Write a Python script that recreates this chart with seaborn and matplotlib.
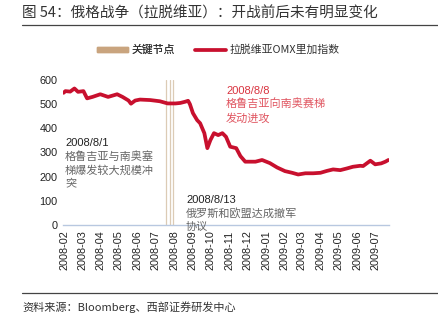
import matplotlib
matplotlib.use("Agg")
import matplotlib.pyplot as plt
import matplotlib.lines as mlines
import matplotlib.patches as mpatches
import seaborn as sns
import pandas as pd

# Latvia OMX Riga index, sampled dates and levels
dates = [
    "2008-02-13", "2008-02-16", "2008-02-24", "2008-03-02", "2008-03-08", "2008-03-17",
    "2008-03-23", "2008-04-01", "2008-04-14", "2008-04-27", "2008-05-12", "2008-05-21",
    "2008-05-31", "2008-06-04", "2008-06-11", "2008-06-19", "2008-07-06", "2008-07-22",
    "2008-08-04", "2008-08-17", "2008-08-25", "2008-09-02", "2008-09-07", "2008-09-10",
    "2008-09-15", "2008-09-22", "2008-09-27", "2008-10-04", "2008-10-09", "2008-10-14",
    "2008-10-20", "2008-10-27", "2008-11-03", "2008-11-09", "2008-11-16", "2008-11-26",
    "2008-12-03", "2008-12-11", "2008-12-28", "2009-01-08", "2009-01-21", "2009-02-02",
    "2009-02-15", "2009-02-27", "2009-03-09", "2009-03-21", "2009-04-03", "2009-04-15",
    "2009-04-26", "2009-05-06", "2009-05-18", "2009-05-29", "2009-06-08", "2009-06-20",
    "2009-06-25", "2009-07-07", "2009-07-15", "2009-07-25", "2009-08-01", "2009-08-06",
]
omx_riga = [
    547, 554, 552, 565, 551, 554,
    524, 530, 541, 530, 541, 530,
    515, 502, 515, 519, 517, 512,
    503, 503, 505, 510, 514, 500,
    463, 434, 421, 380, 318, 351,
    380, 372, 380, 365, 324, 318,
    285, 262, 262, 269, 256, 238,
    223, 216, 209, 214, 214, 216,
    224, 230, 227, 234, 241, 245,
    244, 266, 251, 255, 262, 269,
]

# Key event dates and their notes
event_dates = ["2008-08-01", "2008-08-08", "2008-08-13"]
event_titles = ["2008/8/1", "2008/8/8", "2008/8/13"]
event_notes = [
    "格鲁吉亚与南奥塞\n梯爆发较大规模冲\n突",
    "格鲁吉亚向南奥赛梯\n发动进攻",
    "俄罗斯和欧盟达成撤军\n协议",
]

# Month labels centred on each month
month_ticks = pd.date_range("2008-02-01", "2009-07-01", freq="MS") + pd.Timedelta(days=14)
tick_labels = [d.strftime("%Y-%m") for d in month_ticks]

sns.set_theme(style="white")
plt.rcParams["font.family"] = ["Noto Sans CJK SC", "DejaVu Sans"]

df = pd.DataFrame({"date": pd.to_datetime(dates), "value": omx_riga})

fig = plt.figure(figsize=(4.38, 3.25), dpi=100)
ax = fig.add_axes([63 / 438, 1 - 225 / 325, 326 / 438, 145 / 325])

RED = "#C8102E"
TAN = "#C9A47E"
VLINE = "#DCCBB5"

for d in event_dates:
    ax.axvline(pd.Timestamp(d), color=VLINE, lw=0.9, zorder=1)

sns.lineplot(data=df, x="date", y="value", ax=ax, color=RED, lw=2.7, zorder=3)

ax.set_xlim(pd.Timestamp("2008-02-12"), pd.Timestamp("2009-08-07"))
ax.set_ylim(0, 600)
ax.set_yticks([0, 100, 200, 300, 400, 500, 600])
ax.set_xticks(month_ticks)
ax.set_xticklabels(tick_labels, rotation=90, fontsize=7.8,
                   family=["Liberation Sans", "DejaVu Sans"], color="#222222")
for lab in ax.get_yticklabels():
    lab.set_fontsize(7.8)
    lab.set_family(["Liberation Sans", "DejaVu Sans"])
    lab.set_color("#222222")
ax.tick_params(axis="both", length=0, pad=4)
ax.set_xlabel("")
ax.set_ylabel("")
for s in ["top", "right", "left"]:
    ax.spines[s].set_visible(False)
ax.spines["bottom"].set_color("#B8C8E0")
ax.spines["bottom"].set_linewidth(1.0)
ax.grid(False)
if ax.get_legend() is not None:
    ax.get_legend().remove()

# Event annotations (figure pixel positions)
def note(x, y, title, body, tcolor, bcolor):
    fig.text(x / 438, 1 - y / 325, title, fontsize=8, color=tcolor,
             family=["Liberation Sans", "DejaVu Sans"], va="center", ha="left")
    fig.text(x / 438, 1 - (y + 8) / 325, body, fontsize=8, color=bcolor,
             va="top", ha="left", linespacing=1.35)

note(65, 143, event_titles[0], event_notes[0], "#222222", "#666666")
note(226, 91, event_titles[1], event_notes[1], "#D9333F", "#E05560")
note(186, 200, event_titles[2], event_notes[2], "#222222", "#666666")

# Legend: one entry per box so each sits at its own spot
legend_style = dict(frameon=False, fontsize=7.8, handlelength=2.9, handleheight=0.35,
                    handletextpad=0.3, borderpad=0, borderaxespad=0,
                    labelcolor="#333333", loc="center left")
leg1 = fig.legend(handles=[mpatches.Patch(color=TAN, label="关键节点")],
                  bbox_to_anchor=(97 / 438, 1 - 50 / 325), **legend_style)
fig.add_artist(leg1)
fig.legend(handles=[mlines.Line2D([], [], color=RED, lw=2.7, label="拉脱维亚OMX里加指数")],
           bbox_to_anchor=(195 / 438, 1 - 50 / 325), **legend_style)

# Title and source
fig.text(22 / 438, 1 - 13 / 325, "图 54：俄格战争（拉脱维亚）：开战前后未有明显变化",
         fontsize=10.5, color="#333333", va="center", ha="left")
fig.add_artist(mlines.Line2D([22 / 438, 1.0], [1 - 25 / 325, 1 - 25 / 325],
                             color="#444444", lw=0.9, transform=fig.transFigure))
fig.add_artist(mlines.Line2D([22 / 438, 1.0], [1 - 293 / 325, 1 - 293 / 325],
                             color="#444444", lw=0.9, transform=fig.transFigure))
fig.text(22 / 438, 1 - 307 / 325, "资料来源：Bloomberg、西部证券研发中心",
         fontsize=8, color="#333333", va="center", ha="left")

fig.savefig("out.png", dpi=100)
